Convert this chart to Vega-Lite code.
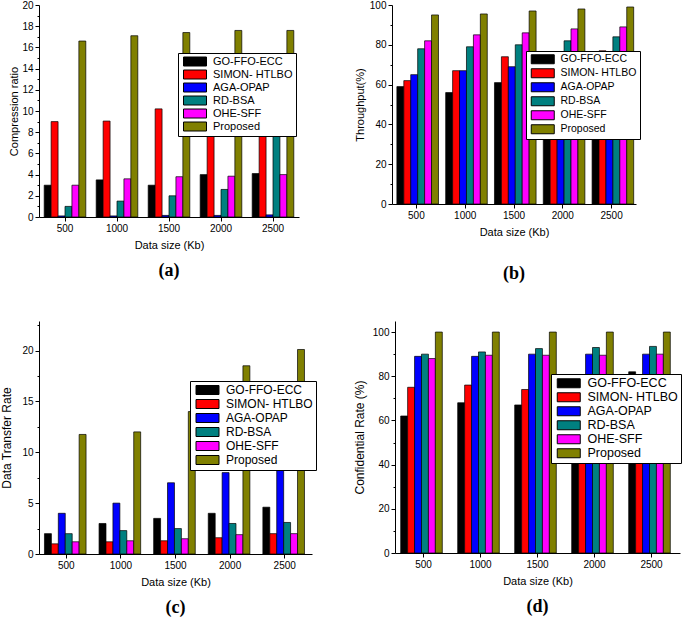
{
  "$schema": "https://vega.github.io/schema/vega-lite/v6.json",
  "padding": {"left": 0, "top": 0, "right": 0, "bottom": 0},
  "background": "white",
  "config": {
    "font": "Liberation Sans",
    "view": {"stroke": null},
    "axis": {"grid": false, "domainColor": "black", "tickColor": "black", "labelColor": "black", "titleColor": "black", "labelFont": "Liberation Sans", "titleFont": "Liberation Sans", "labelFontSize": 10, "titleFontSize": 11, "titleFontWeight": "normal", "tickSize": 4, "domainWidth": 1},
    "axisX": {"labelAngle": 0, "titlePadding": 6},
    "legend": {"title": null, "orient": "none", "fillColor": "white", "strokeColor": "black", "padding": 3, "symbolType": "M-1,-1.5H6.67V1.5H-1Z", "symbolSize": 36, "symbolStrokeColor": "black", "symbolStrokeWidth": 1, "symbolOpacity": 1, "labelFont": "Liberation Sans", "labelFontSize": 11, "labelColor": "black", "rowPadding": 0, "labelOffset": 21, "zindex": 1},
    "title": {"orient": "bottom", "font": "Liberation Serif", "fontWeight": "bold", "fontSize": 18, "color": "black", "anchor": "middle"}
  },
  "datasets": {
    "a": [
      {"size": "500", "method": "GO-FFO-ECC", "value": 3.0}, {"size": "500", "method": "SIMON- HTLBO", "value": 9.0}, {"size": "500", "method": "AGA-OPAP", "value": 0.1}, {"size": "500", "method": "RD-BSA", "value": 1.0}, {"size": "500", "method": "OHE-SFF", "value": 3.0}, {"size": "500", "method": "Proposed", "value": 16.6},
      {"size": "1000", "method": "GO-FFO-ECC", "value": 3.5}, {"size": "1000", "method": "SIMON- HTLBO", "value": 9.05}, {"size": "1000", "method": "AGA-OPAP", "value": 0.1}, {"size": "1000", "method": "RD-BSA", "value": 1.5}, {"size": "1000", "method": "OHE-SFF", "value": 3.6}, {"size": "1000", "method": "Proposed", "value": 17.1},
      {"size": "1500", "method": "GO-FFO-ECC", "value": 3.0}, {"size": "1500", "method": "SIMON- HTLBO", "value": 10.2}, {"size": "1500", "method": "AGA-OPAP", "value": 0.15}, {"size": "1500", "method": "RD-BSA", "value": 2.0}, {"size": "1500", "method": "OHE-SFF", "value": 3.8}, {"size": "1500", "method": "Proposed", "value": 17.4},
      {"size": "2000", "method": "GO-FFO-ECC", "value": 4.0}, {"size": "2000", "method": "SIMON- HTLBO", "value": 10.6}, {"size": "2000", "method": "AGA-OPAP", "value": 0.15}, {"size": "2000", "method": "RD-BSA", "value": 2.6}, {"size": "2000", "method": "OHE-SFF", "value": 3.85}, {"size": "2000", "method": "Proposed", "value": 17.6},
      {"size": "2500", "method": "GO-FFO-ECC", "value": 4.1}, {"size": "2500", "method": "SIMON- HTLBO", "value": 11.0}, {"size": "2500", "method": "AGA-OPAP", "value": 0.2}, {"size": "2500", "method": "RD-BSA", "value": 8.5}, {"size": "2500", "method": "OHE-SFF", "value": 4.0}, {"size": "2500", "method": "Proposed", "value": 17.6}
    ],
    "b": [
      {"size": "500", "method": "GO-FFO-ECC", "value": 59}, {"size": "500", "method": "SIMON- HTLBO", "value": 62}, {"size": "500", "method": "AGA-OPAP", "value": 65}, {"size": "500", "method": "RD-BSA", "value": 78}, {"size": "500", "method": "OHE-SFF", "value": 82}, {"size": "500", "method": "Proposed", "value": 95},
      {"size": "1000", "method": "GO-FFO-ECC", "value": 56}, {"size": "1000", "method": "SIMON- HTLBO", "value": 67}, {"size": "1000", "method": "AGA-OPAP", "value": 67}, {"size": "1000", "method": "RD-BSA", "value": 79}, {"size": "1000", "method": "OHE-SFF", "value": 85}, {"size": "1000", "method": "Proposed", "value": 95.5},
      {"size": "1500", "method": "GO-FFO-ECC", "value": 61}, {"size": "1500", "method": "SIMON- HTLBO", "value": 74}, {"size": "1500", "method": "AGA-OPAP", "value": 69}, {"size": "1500", "method": "RD-BSA", "value": 80}, {"size": "1500", "method": "OHE-SFF", "value": 86}, {"size": "1500", "method": "Proposed", "value": 97},
      {"size": "2000", "method": "GO-FFO-ECC", "value": 63}, {"size": "2000", "method": "SIMON- HTLBO", "value": 75}, {"size": "2000", "method": "AGA-OPAP", "value": 71}, {"size": "2000", "method": "RD-BSA", "value": 82}, {"size": "2000", "method": "OHE-SFF", "value": 88}, {"size": "2000", "method": "Proposed", "value": 98},
      {"size": "2500", "method": "GO-FFO-ECC", "value": 64}, {"size": "2500", "method": "SIMON- HTLBO", "value": 77}, {"size": "2500", "method": "AGA-OPAP", "value": 73}, {"size": "2500", "method": "RD-BSA", "value": 84}, {"size": "2500", "method": "OHE-SFF", "value": 89}, {"size": "2500", "method": "Proposed", "value": 99}
    ],
    "c": [
      {"size": "500", "method": "GO-FFO-ECC", "value": 2.0}, {"size": "500", "method": "SIMON- HTLBO", "value": 1.0}, {"size": "500", "method": "AGA-OPAP", "value": 4.0}, {"size": "500", "method": "RD-BSA", "value": 2.0}, {"size": "500", "method": "OHE-SFF", "value": 1.2}, {"size": "500", "method": "Proposed", "value": 11.75},
      {"size": "1000", "method": "GO-FFO-ECC", "value": 3.0}, {"size": "1000", "method": "SIMON- HTLBO", "value": 1.2}, {"size": "1000", "method": "AGA-OPAP", "value": 5.0}, {"size": "1000", "method": "RD-BSA", "value": 2.3}, {"size": "1000", "method": "OHE-SFF", "value": 1.3}, {"size": "1000", "method": "Proposed", "value": 12.0},
      {"size": "1500", "method": "GO-FFO-ECC", "value": 3.5}, {"size": "1500", "method": "SIMON- HTLBO", "value": 1.3}, {"size": "1500", "method": "AGA-OPAP", "value": 7.0}, {"size": "1500", "method": "RD-BSA", "value": 2.5}, {"size": "1500", "method": "OHE-SFF", "value": 1.5}, {"size": "1500", "method": "Proposed", "value": 14.0},
      {"size": "2000", "method": "GO-FFO-ECC", "value": 4.0}, {"size": "2000", "method": "SIMON- HTLBO", "value": 1.6}, {"size": "2000", "method": "AGA-OPAP", "value": 8.0}, {"size": "2000", "method": "RD-BSA", "value": 3.0}, {"size": "2000", "method": "OHE-SFF", "value": 1.9}, {"size": "2000", "method": "Proposed", "value": 18.5},
      {"size": "2500", "method": "GO-FFO-ECC", "value": 4.6}, {"size": "2500", "method": "SIMON- HTLBO", "value": 2.0}, {"size": "2500", "method": "AGA-OPAP", "value": 9.5}, {"size": "2500", "method": "RD-BSA", "value": 3.1}, {"size": "2500", "method": "OHE-SFF", "value": 2.0}, {"size": "2500", "method": "Proposed", "value": 20.1}
    ],
    "d": [
      {"size": "500", "method": "GO-FFO-ECC", "value": 62}, {"size": "500", "method": "SIMON- HTLBO", "value": 75}, {"size": "500", "method": "AGA-OPAP", "value": 89}, {"size": "500", "method": "RD-BSA", "value": 90}, {"size": "500", "method": "OHE-SFF", "value": 88}, {"size": "500", "method": "Proposed", "value": 100},
      {"size": "1000", "method": "GO-FFO-ECC", "value": 68}, {"size": "1000", "method": "SIMON- HTLBO", "value": 76}, {"size": "1000", "method": "AGA-OPAP", "value": 89}, {"size": "1000", "method": "RD-BSA", "value": 91}, {"size": "1000", "method": "OHE-SFF", "value": 89.5}, {"size": "1000", "method": "Proposed", "value": 100},
      {"size": "1500", "method": "GO-FFO-ECC", "value": 67}, {"size": "1500", "method": "SIMON- HTLBO", "value": 74}, {"size": "1500", "method": "AGA-OPAP", "value": 90}, {"size": "1500", "method": "RD-BSA", "value": 92.5}, {"size": "1500", "method": "OHE-SFF", "value": 89.5}, {"size": "1500", "method": "Proposed", "value": 100},
      {"size": "2000", "method": "GO-FFO-ECC", "value": 72}, {"size": "2000", "method": "SIMON- HTLBO", "value": 78}, {"size": "2000", "method": "AGA-OPAP", "value": 90}, {"size": "2000", "method": "RD-BSA", "value": 93}, {"size": "2000", "method": "OHE-SFF", "value": 89.5}, {"size": "2000", "method": "Proposed", "value": 100},
      {"size": "2500", "method": "GO-FFO-ECC", "value": 82}, {"size": "2500", "method": "SIMON- HTLBO", "value": 80}, {"size": "2500", "method": "AGA-OPAP", "value": 90}, {"size": "2500", "method": "RD-BSA", "value": 93.5}, {"size": "2500", "method": "OHE-SFF", "value": 90}, {"size": "2500", "method": "Proposed", "value": 100}
    ]
  },
  "vconcat": [
    {
      "hconcat": [
        {
          "width": 260, "height": 212,
          "data": {"name": "a"},
          "title": {"text": "(a)", "offset": 12},
          "mark": {"type": "bar", "stroke": "black", "strokeWidth": 0.7},
          "encoding": {
            "x": {"field": "size", "type": "ordinal", "sort": null, "title": "Data size (Kb)", "scale": {"paddingInner": 0.2, "paddingOuter": 0.1}},
            "xOffset": {"field": "method", "type": "nominal", "sort": ["GO-FFO-ECC", "SIMON- HTLBO", "AGA-OPAP", "RD-BSA", "OHE-SFF", "Proposed"], "scale": {"paddingInner": 0, "paddingOuter": 0}},
            "y": {"field": "value", "type": "quantitative", "title": "Compression ratio", "scale": {"domain": [0, 20], "nice": false}, "axis": {"values": [0,1,2,3,4,5,6,7,8,9,10,11,12,13,14,15,16,17,18,19,20], "labelExpr": "datum.value % 2 === 0 ? datum.label : ''", "tickSize": {"condition": {"test": "datum.value % 2 !== 0", "value": 2}, "value": 4}, "titlePadding": 2}},
            "color": {"field": "method", "type": "nominal", "scale": {"domain": ["GO-FFO-ECC", "SIMON- HTLBO", "AGA-OPAP", "RD-BSA", "OHE-SFF", "Proposed"], "range": ["#000000", "#ff0000", "#0000ff", "#008080", "#ff00ff", "#808000"]}, "legend": {"legendX": 139, "legendY": 48, "labelFontSize": 11}}
          }
        },
        {
          "width": 244, "height": 199,
          "data": {"name": "b"},
          "title": {"text": "(b)", "offset": 28},
          "mark": {"type": "bar", "stroke": "black", "strokeWidth": 0.7},
          "encoding": {
            "x": {"field": "size", "type": "ordinal", "sort": null, "title": "Data size (Kb)", "scale": {"paddingInner": 0.2, "paddingOuter": 0.1}},
            "xOffset": {"field": "method", "type": "nominal", "sort": ["GO-FFO-ECC", "SIMON- HTLBO", "AGA-OPAP", "RD-BSA", "OHE-SFF", "Proposed"], "scale": {"paddingInner": 0, "paddingOuter": 0}},
            "y": {"field": "value", "type": "quantitative", "title": "Throughput(%)", "scale": {"domain": [0, 100], "nice": false}, "axis": {"values": [0,10,20,30,40,50,60,70,80,90,100], "labelExpr": "datum.value % 20 === 0 ? datum.label : ''", "tickSize": {"condition": {"test": "datum.value % 20 !== 0", "value": 2}, "value": 4}, "titlePadding": 4}},
            "color": {"field": "method", "type": "nominal", "scale": {"domain": ["GO-FFO-ECC", "SIMON- HTLBO", "AGA-OPAP", "RD-BSA", "OHE-SFF", "Proposed"], "range": ["#000000", "#ff0000", "#0000ff", "#008080", "#ff00ff", "#808000"]}, "legend": {"legendX": 134, "legendY": 46, "labelFontSize": 10.5}}
          }
        }
      ],
      "spacing": 55,
      "resolve": {"scale": {"color": "independent", "y": "independent", "x": "independent"}, "legend": {"color": "independent"}}
    },
    {
      "hconcat": [
        {
          "width": 273, "height": 233,
          "data": {"name": "c"},
          "title": {"text": "(c)", "offset": 12},
          "mark": {"type": "bar", "stroke": "black", "strokeWidth": 0.7},
          "encoding": {
            "x": {"field": "size", "type": "ordinal", "sort": null, "title": "Data size (Kb)", "scale": {"paddingInner": 0.2, "paddingOuter": 0.1}},
            "xOffset": {"field": "method", "type": "nominal", "sort": ["GO-FFO-ECC", "SIMON- HTLBO", "AGA-OPAP", "RD-BSA", "OHE-SFF", "Proposed"], "scale": {"paddingInner": 0, "paddingOuter": 0}},
            "y": {"field": "value", "type": "quantitative", "title": "Data Transfer Rate", "scale": {"domain": [0, 22.9], "nice": false}, "axis": {"values": [0,2.5,5,7.5,10,12.5,15,17.5,20,22.5], "labelExpr": "datum.value % 5 === 0 ? datum.label : ''", "tickSize": {"condition": {"test": "datum.value % 5 !== 0", "value": 2}, "value": 4}, "titleFontSize": 12, "titlePadding": 8}},
            "color": {"field": "method", "type": "nominal", "scale": {"domain": ["GO-FFO-ECC", "SIMON- HTLBO", "AGA-OPAP", "RD-BSA", "OHE-SFF", "Proposed"], "range": ["#000000", "#ff0000", "#0000ff", "#008080", "#ff00ff", "#808000"]}, "legend": {"legendX": 151, "legendY": 60, "labelFontSize": 12}}
          }
        },
        {
          "width": 285, "height": 232,
          "data": {"name": "d"},
          "title": {"text": "(d)", "offset": 12},
          "mark": {"type": "bar", "stroke": "black", "strokeWidth": 0.7},
          "encoding": {
            "x": {"field": "size", "type": "ordinal", "sort": null, "title": "Data size (Kb)", "scale": {"paddingInner": 0.2, "paddingOuter": 0.1}},
            "xOffset": {"field": "method", "type": "nominal", "sort": ["GO-FFO-ECC", "SIMON- HTLBO", "AGA-OPAP", "RD-BSA", "OHE-SFF", "Proposed"], "scale": {"paddingInner": 0, "paddingOuter": 0}},
            "y": {"field": "value", "type": "quantitative", "title": "Confidential Rate (%)", "scale": {"domain": [0, 105], "nice": false}, "axis": {"values": [0,10,20,30,40,50,60,70,80,90,100], "labelExpr": "datum.value % 20 === 0 ? datum.label : ''", "tickSize": {"condition": {"test": "datum.value % 20 !== 0", "value": 2}, "value": 4}, "titleFontSize": 12, "titlePadding": 6}},
            "color": {"field": "method", "type": "nominal", "scale": {"domain": ["GO-FFO-ECC", "SIMON- HTLBO", "AGA-OPAP", "RD-BSA", "OHE-SFF", "Proposed"], "range": ["#000000", "#ff0000", "#0000ff", "#008080", "#ff00ff", "#808000"]}, "legend": {"legendX": 156, "legendY": 53, "labelFontSize": 12.5}}
          }
        }
      ],
      "spacing": 36,
      "resolve": {"scale": {"color": "independent", "y": "independent", "x": "independent"}, "legend": {"color": "independent"}}
    }
  ],
  "spacing": 38,
  "resolve": {"scale": {"color": "independent", "y": "independent", "x": "independent"}, "legend": {"color": "independent"}}
}
